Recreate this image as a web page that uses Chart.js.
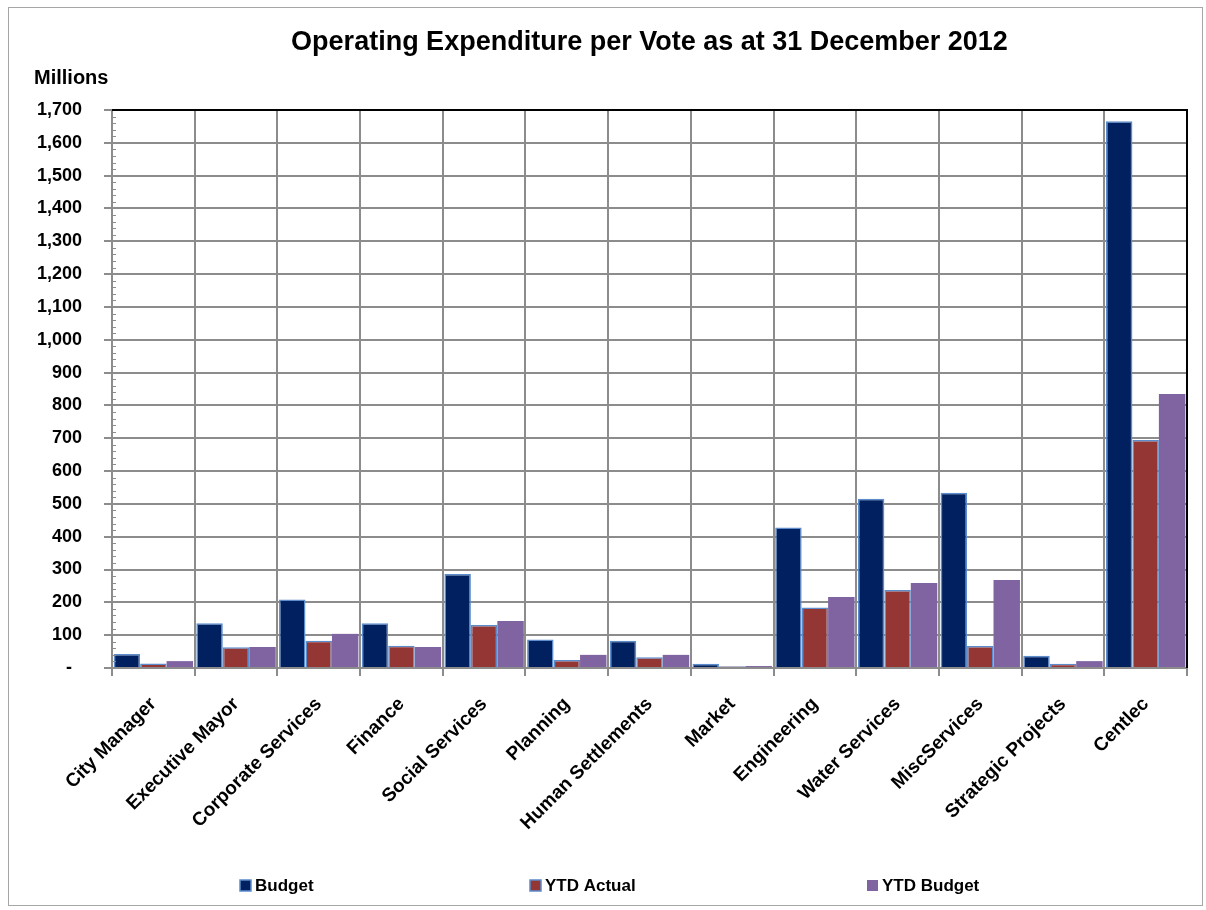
<!DOCTYPE html>
<html>
<head>
<meta charset="utf-8">
<title>Operating Expenditure per Vote</title>
<script src="https://cdn.jsdelivr.net/npm/chart.js@4.4.0/dist/chart.umd.min.js"></script>
<style>
  html, body { margin: 0; padding: 0; background: #fff; }
  #wrap { width: 1206px; height: 910px; }
</style>
</head>
<body>
<div id="wrap"><canvas id="voteChart" width="1206" height="910"></canvas></div>
<script>
// R millions per vote
const votes = ['City Manager', 'Executive Mayor', 'Corporate Services', 'Finance', 'Social Services',
  'Planning', 'Human Settlements', 'Market', 'Engineering', 'Water Services', 'MiscServices',
  'Strategic Projects', 'Centlec'];
const budget    = [43, 136, 209, 136, 286, 87, 83, 13, 428, 516, 534, 37, 1666];
const ytdActual = [14, 63, 83, 68, 131, 24, 33, 5, 184, 238, 67, 13, 695];
const ytdBudget = [21, 64, 104, 64, 143, 40, 40, 6, 216, 259, 268, 21, 835];
const seriesNames = ['Budget', 'YTD Actual', 'YTD Budget'];
const yMax = 1700;
const yStep = 100;
const yMinorStep = 20;

const FONT = "'Liberation Sans', Arial, sans-serif";
const GRID = '#8c8c8c';
const legendX = [240, 530, 867];

// frame, "Millions" caption, plot border, minor ticks and the legend row
const extras = {
  id: 'extras',
  afterLayout(chart) {
    // centre the title over the plot area rather than the canvas
    chart.titleBlock.left = chart.chartArea.left;
    chart.titleBlock.right = chart.chartArea.right;
  },
  beforeDraw(chart) {
    const ctx = chart.ctx;
    ctx.save();
    ctx.fillStyle = '#fff';
    ctx.fillRect(0, 0, chart.width, chart.height);
    ctx.strokeStyle = '#a6a6a6';
    ctx.lineWidth = 1;
    ctx.strokeRect(8.5, 7.5, chart.width - 12, chart.height - 12);
    ctx.restore();
  },
  afterDraw(chart) {
    const ctx = chart.ctx;
    const area = chart.chartArea;
    const y = chart.scales.y;
    ctx.save();

    // minor ticks on the value axis
    ctx.strokeStyle = GRID;
    ctx.lineWidth = 1;
    for (let v = 0; v <= yMax; v += yMinorStep) {
      if (v % yStep === 0) continue;
      const py = Math.round(y.getPixelForValue(v)) + 0.5;
      ctx.beginPath();
      ctx.moveTo(area.left, py);
      ctx.lineTo(area.left + 4, py);
      ctx.stroke();
    }

    // plot area top and right edges
    ctx.strokeStyle = '#000';
    ctx.lineWidth = 2;
    ctx.beginPath();
    ctx.moveTo(area.left, area.top);
    ctx.lineTo(area.right, area.top);
    ctx.lineTo(area.right, area.bottom);
    ctx.stroke();

    ctx.fillStyle = '#000';
    ctx.font = 'bold 20px ' + FONT;
    ctx.textBaseline = 'middle';
    ctx.textAlign = 'left';
    ctx.fillText('Millions', 34, 78);

    // legend
    ctx.font = 'bold 17px ' + FONT;
    chart.data.datasets.forEach((ds, i) => {
      const x = legendX[i];
      const cy = 886;
      ctx.fillStyle = ds.backgroundColor;
      ctx.fillRect(x, cy - 6, 11, 11);
      if (ds.borderWidth) {
        ctx.strokeStyle = ds.borderColor;
        ctx.lineWidth = 1.5;
        ctx.strokeRect(x, cy - 6, 11, 11);
      }
      ctx.fillStyle = '#000';
      ctx.fillText(ds.label, x + 15, cy);
    });
    ctx.restore();
  }
};

const config = {
  type: 'bar',
  data: {
    labels: votes,
    datasets: [{
      label: seriesNames[0],
      data: budget,
      backgroundColor: '#00205f',
      borderColor: '#5b8ccc',
      borderWidth: 1.5,
      borderSkipped: 'bottom'
    }, {
      label: seriesNames[1],
      data: ytdActual,
      backgroundColor: '#943634',
      borderColor: '#5b8ccc',
      borderWidth: 1.5,
      borderSkipped: 'bottom'
    }, {
      label: seriesNames[2],
      data: ytdBudget,
      backgroundColor: '#8064a2',
      borderWidth: 0
    }]
  },
  options: {
    responsive: false,
    animation: false,
    layout: { padding: { top: 12, left: 20, right: 19, bottom: 72 } },
    datasets: {
      bar: { categoryPercentage: 0.96, barPercentage: 1 }
    },
    plugins: {
      legend: { display: false },
      tooltip: { enabled: false },
      title: {
        display: true,
        text: 'Operating Expenditure per Vote as at 31 December 2012',
        color: '#000',
        font: { family: FONT, size: 27, weight: 'bold' },
        padding: { top: 14, bottom: 51.6 }
      }
    },
    scales: {
      x: {
        grid: { color: GRID, lineWidth: 2, tickLength: 8 },
        border: { color: GRID, width: 2 },
        ticks: {
          color: '#000',
          font: { family: FONT, size: 19, weight: 'bold' },
          maxRotation: 45,
          minRotation: 45,
          autoSkip: false,
          padding: 17
        },
        afterFit(scale) { scale.height = 170; }
      },
      y: {
        min: 0,
        max: yMax,
        grid: { color: GRID, lineWidth: 2, tickLength: 8 },
        border: { color: GRID, width: 2 },
        ticks: {
          stepSize: yStep,
          color: '#000',
          font: { family: FONT, size: 18, weight: 'bold' },
          padding: 22,
          callback: v => v === 0 ? '-  ' : v.toLocaleString('en-US')
        },
        afterFit(scale) { scale.width = 92; }
      }
    }
  },
  plugins: [extras]
};

new Chart(document.getElementById('voteChart'), config);
</script>
</body>
</html>
